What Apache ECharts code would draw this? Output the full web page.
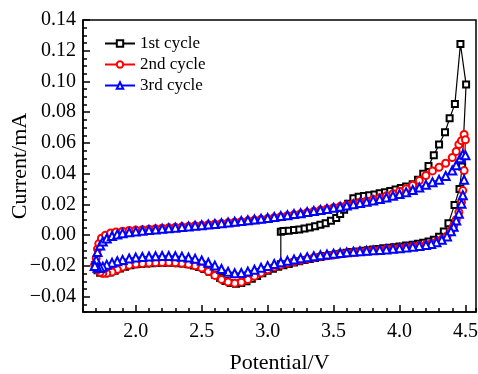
<!DOCTYPE html>
<html>
<head>
<meta charset="utf-8">
<script src="https://cdn.jsdelivr.net/npm/echarts@6/dist/echarts.min.js"></script>
<style>
  html, body { margin: 0; padding: 0; background: #fff; }
  #chart { width: 478px; height: 374px; }
</style>
</head>
<body>
<div id="chart"></div>
<script>
// CV curves, [potential V, current mA]
const seriesNames = ['1st cycle', '2nd cycle', '3rd cycle']

const cycle1 = [
  [3.10, -0.0190], [3.10, 0.0022], [3.12, 0.0027], [3.16, 0.0029], [3.20, 0.0033], [3.24, 0.0037],
  [3.28, 0.0043], [3.32, 0.0050], [3.36, 0.0058], [3.40, 0.0067], [3.44, 0.0078], [3.48, 0.0093],
  [3.52, 0.0112], [3.55, 0.0138], [3.58, 0.0165], [3.61, 0.0205], [3.65, 0.0240], [3.69, 0.0250],
  [3.73, 0.0255], [3.77, 0.0260], [3.81, 0.0265], [3.85, 0.0272], [3.89, 0.0280], [3.93, 0.0288],
  [3.97, 0.0297], [4.01, 0.0307], [4.05, 0.0317], [4.10, 0.0332], [4.14, 0.0360], [4.18, 0.0400],
  [4.22, 0.0450], [4.26, 0.0520], [4.30, 0.0590], [4.345, 0.0670], [4.38, 0.0760], [4.42, 0.0854],
  [4.462, 0.1244], [4.505, 0.0980], [4.475, 0.0446], [4.455, 0.0300], [4.417, 0.0197], [4.371, 0.0077],
  [4.336, 0.0023], [4.30, -0.0010], [4.26, -0.0030], [4.22, -0.0042], [4.18, -0.0050], [4.14, -0.0056],
  [4.10, -0.0062], [4.05, -0.0068], [4.00, -0.0074], [3.96, -0.0078], [3.92, -0.0082], [3.88, -0.0086],
  [3.84, -0.0090], [3.80, -0.0094], [3.76, -0.0098], [3.72, -0.0102], [3.68, -0.0106], [3.64, -0.0110],
  [3.60, -0.0115], [3.56, -0.0120], [3.52, -0.0125], [3.48, -0.0130], [3.44, -0.0136], [3.40, -0.0142],
  [3.36, -0.0148], [3.32, -0.0155], [3.28, -0.0162], [3.24, -0.0170], [3.20, -0.0178], [3.16, -0.0187],
  [3.12, -0.0196], [3.08, -0.0206], [3.04, -0.0218], [3.00, -0.0232], [2.96, -0.0248], [2.92, -0.0266],
  [2.88, -0.0284], [2.84, -0.0300], [2.80, -0.0312], [2.76, -0.0316], [2.72, -0.0311], [2.68, -0.0298],
  [2.64, -0.0279], [2.60, -0.0258], [2.56, -0.0238], [2.52, -0.0221], [2.48, -0.0207], [2.44, -0.0197],
  [2.40, -0.0190], [2.36, -0.0185], [2.32, -0.0182], [2.28, -0.0180], [2.24, -0.0179], [2.20, -0.0179],
  [2.16, -0.0180], [2.12, -0.0182], [2.08, -0.0184], [2.04, -0.0187], [2.00, -0.0190], [1.96, -0.0196],
  [1.92, -0.0205], [1.88, -0.0217], [1.84, -0.0231], [1.80, -0.0243], [1.76, -0.0248], [1.73, -0.0244],
  [1.71, -0.0228], [1.69, -0.0195]
]

const cycle2 = [
  [1.69, -0.0190], [1.70, -0.0150], [1.71, -0.0090], [1.72, -0.0055], [1.74, -0.0020], [1.77, 0.0000],
  [1.81, 0.0014], [1.85, 0.0021], [1.90, 0.0026], [1.95, 0.0030], [2.00, 0.0033], [2.05, 0.0036],
  [2.10, 0.0039], [2.15, 0.0042], [2.20, 0.0045], [2.25, 0.0048], [2.30, 0.0051], [2.35, 0.0054],
  [2.40, 0.0057], [2.45, 0.0061], [2.50, 0.0064], [2.55, 0.0068], [2.60, 0.0072], [2.65, 0.0076],
  [2.70, 0.0080], [2.75, 0.0084], [2.80, 0.0088], [2.85, 0.0093], [2.90, 0.0098], [2.95, 0.0103],
  [3.00, 0.0108], [3.05, 0.0114], [3.10, 0.0120], [3.15, 0.0126], [3.20, 0.0133], [3.25, 0.0140],
  [3.30, 0.0147], [3.35, 0.0155], [3.40, 0.0163], [3.45, 0.0171], [3.50, 0.0179], [3.55, 0.0187],
  [3.60, 0.0196], [3.65, 0.0205], [3.70, 0.0214], [3.75, 0.0223], [3.80, 0.0233], [3.85, 0.0244],
  [3.90, 0.0256], [3.95, 0.0270], [4.00, 0.0285], [4.05, 0.0302], [4.10, 0.0325], [4.15, 0.0355],
  [4.20, 0.0388], [4.25, 0.0418], [4.30, 0.0442], [4.35, 0.0468], [4.40, 0.0505], [4.43, 0.0545],
  [4.45, 0.0590], [4.47, 0.0615], [4.49, 0.0655], [4.50, 0.0620],
  [4.49, 0.0420], [4.48, 0.0290], [4.47, 0.0215], [4.45, 0.0150], [4.43, 0.0100], [4.41, 0.0060],
  [4.39, 0.0030], [4.36, -0.0005], [4.32, -0.0028], [4.28, -0.0045], [4.24, -0.0055], [4.20, -0.0062],
  [4.15, -0.0068], [4.10, -0.0073], [4.05, -0.0078], [4.00, -0.0083], [3.95, -0.0088], [3.90, -0.0092],
  [3.85, -0.0096], [3.80, -0.0100], [3.75, -0.0104], [3.70, -0.0108], [3.65, -0.0112], [3.60, -0.0117],
  [3.55, -0.0122], [3.50, -0.0128], [3.45, -0.0134], [3.40, -0.0140], [3.35, -0.0147], [3.30, -0.0155],
  [3.25, -0.0164], [3.20, -0.0173], [3.15, -0.0183], [3.10, -0.0194], [3.05, -0.0208], [3.00, -0.0225],
  [2.95, -0.0246], [2.90, -0.0268], [2.85, -0.0289], [2.80, -0.0306], [2.75, -0.0313], [2.70, -0.0305],
  [2.65, -0.0288], [2.60, -0.0262], [2.55, -0.0236], [2.50, -0.0214], [2.45, -0.0199], [2.40, -0.0189],
  [2.35, -0.0183], [2.30, -0.0180], [2.25, -0.0178], [2.20, -0.0178], [2.15, -0.0179], [2.10, -0.0181],
  [2.05, -0.0184], [2.00, -0.0188], [1.95, -0.0195], [1.90, -0.0208], [1.86, -0.0224], [1.82, -0.0240],
  [1.78, -0.0248], [1.75, -0.0248], [1.73, -0.0242], [1.71, -0.0226], [1.69, -0.0195]
]

const cycle3 = [
  [1.69, -0.0200], [1.70, -0.0160], [1.71, -0.0110], [1.73, -0.0068], [1.75, -0.0042], [1.78, -0.0022],
  [1.82, -0.0006], [1.86, 0.0005], [1.90, 0.0013], [1.95, 0.0019], [2.00, 0.0024], [2.05, 0.0029],
  [2.10, 0.0033], [2.15, 0.0037], [2.20, 0.0041], [2.25, 0.0045], [2.30, 0.0049], [2.35, 0.0053],
  [2.40, 0.0057], [2.45, 0.0061], [2.50, 0.0065], [2.55, 0.0069], [2.60, 0.0073], [2.65, 0.0078],
  [2.70, 0.0082], [2.75, 0.0087], [2.80, 0.0092], [2.85, 0.0097], [2.90, 0.0102], [2.95, 0.0107],
  [3.00, 0.0112], [3.05, 0.0118], [3.10, 0.0124], [3.15, 0.0130], [3.20, 0.0137], [3.25, 0.0143],
  [3.30, 0.0150], [3.35, 0.0157], [3.40, 0.0164], [3.45, 0.0171], [3.50, 0.0178], [3.55, 0.0185],
  [3.60, 0.0193], [3.65, 0.0201], [3.70, 0.0209], [3.75, 0.0217], [3.80, 0.0226], [3.85, 0.0235],
  [3.90, 0.0245], [3.95, 0.0256], [4.00, 0.0268], [4.05, 0.0280], [4.10, 0.0294], [4.15, 0.0310],
  [4.20, 0.0328], [4.25, 0.0345], [4.30, 0.0360], [4.35, 0.0385], [4.40, 0.0420], [4.43, 0.0455],
  [4.46, 0.0500], [4.48, 0.0525], [4.50, 0.0520],
  [4.49, 0.0360], [4.48, 0.0260], [4.47, 0.0205], [4.45, 0.0140], [4.43, 0.0095], [4.41, 0.0055],
  [4.39, 0.0025], [4.36, -0.0008], [4.32, -0.0030], [4.28, -0.0046], [4.24, -0.0057], [4.20, -0.0064],
  [4.15, -0.0070], [4.10, -0.0075], [4.05, -0.0080], [4.00, -0.0085], [3.95, -0.0089], [3.90, -0.0093],
  [3.85, -0.0096], [3.80, -0.0099], [3.75, -0.0102], [3.70, -0.0105], [3.65, -0.0108], [3.60, -0.0112],
  [3.55, -0.0116], [3.50, -0.0121], [3.45, -0.0126], [3.40, -0.0131], [3.35, -0.0137], [3.30, -0.0143],
  [3.25, -0.0150], [3.20, -0.0158], [3.15, -0.0167], [3.10, -0.0177], [3.05, -0.0188], [3.00, -0.0200],
  [2.95, -0.0212], [2.90, -0.0225], [2.85, -0.0237], [2.80, -0.0246], [2.75, -0.0248], [2.70, -0.0238],
  [2.65, -0.0220], [2.60, -0.0198], [2.55, -0.0180], [2.50, -0.0165], [2.45, -0.0153], [2.40, -0.0145],
  [2.35, -0.0140], [2.30, -0.0137], [2.25, -0.0136], [2.20, -0.0136], [2.15, -0.0137], [2.10, -0.0139],
  [2.05, -0.0142], [2.00, -0.0146], [1.95, -0.0152], [1.90, -0.0161], [1.86, -0.0170], [1.82, -0.0180],
  [1.78, -0.0192], [1.75, -0.0205], [1.73, -0.0213], [1.71, -0.0212], [1.69, -0.0200]
]

// tick labels
const xTicks = [2.0, 2.5, 3.0, 3.5, 4.0, 4.5]
const yTicks = [-0.04, -0.02, 0.00, 0.02, 0.04, 0.06, 0.08, 0.10, 0.12, 0.14]

const font = 'Liberation Serif'
const xMin = 1.6, xMax = 4.58
const yMin = -0.05, yMax = 0.14

const myChart = echarts.init(document.getElementById('chart'))

// same box for both grids; grid 1 only carries the short minor ticks
const box = {left: 83, top: 20, right: 2, bottom: 62, containLabel: false, outerBoundsMode: 'none'}

const minorAxis = (pos, interval, min, max) => ({
  type: 'value', gridIndex: 1, position: pos, min, max, interval,
  axisLine: {show: false, onZero: false},
  axisTick: {show: true, inside: true, length: 4, lineStyle: {color: '#000', width: 1.5}},
  axisLabel: {show: false},
  splitLine: {show: false},
})

myChart.setOption({
  animation: false,
  grid: [
    {...box, show: true, borderColor: '#000', borderWidth: 1.5},
    {...box},
  ],
  legend: {
    orient: 'vertical',
    left: 99, top: 30,
    itemWidth: 30, itemHeight: 8, itemGap: 4,
    textStyle: {fontFamily: font, fontSize: 17, color: '#000'},
    data: seriesNames,
  },
  xAxis: [
    {
      type: 'value', position: 'bottom', min: xMin, max: xMax,
      name: 'Potential/V', nameLocation: 'middle', nameGap: 40, nameMoveOverlap: false,
      nameTextStyle: {fontFamily: font, fontSize: 22, color: '#000'},
      axisLine: {show: true, onZero: false, lineStyle: {color: '#000', width: 1.5}},
      axisTick: {show: true, inside: true, length: 7, customValues: xTicks, lineStyle: {color: '#000', width: 1.5}},
      axisLabel: {
        customValues: xTicks, margin: 10,
        fontFamily: font, fontSize: 20, color: '#000',
        formatter: v => v.toFixed(1),
      },
      splitLine: {show: false},
    },
    minorAxis('bottom', 0.1, xMin, xMax),
  ],
  yAxis: [
    {
      type: 'value', position: 'left', min: yMin, max: yMax,
      name: 'Current/mA', nameLocation: 'middle', nameGap: 52, nameMoveOverlap: false,
      nameTextStyle: {fontFamily: font, fontSize: 22, color: '#000'},
      axisLine: {show: true, onZero: false, lineStyle: {color: '#000', width: 1.5}},
      axisTick: {show: true, inside: true, length: 7, customValues: yTicks, lineStyle: {color: '#000', width: 1.5}},
      axisLabel: {
        customValues: yTicks, margin: 7,
        fontFamily: font, fontSize: 20, color: '#000',
        formatter: v => (v < 0 ? '\u2212' : '') + Math.abs(v).toFixed(2),
      },
      splitLine: {show: false},
    },
    minorAxis('left', 0.005, yMin, yMax),
  ],
  series: [
    {
      name: seriesNames[0], type: 'line', data: cycle1,
      symbol: 'emptyRect', symbolSize: 6,
      itemStyle: {color: '#000', borderWidth: 1},
      lineStyle: {color: '#000', width: 1.2},
    },
    {
      name: seriesNames[1], type: 'line', data: cycle2,
      symbol: 'emptyCircle', symbolSize: 7,
      itemStyle: {color: '#ff0000', borderWidth: 1},
      lineStyle: {color: '#ff0000', width: 1.5},
    },
    {
      name: seriesNames[2], type: 'line', data: cycle3,
      symbol: 'emptyTriangle', symbolSize: 8,
      itemStyle: {color: '#0000ff', borderWidth: 1},
      lineStyle: {color: '#0000ff', width: 1.5},
    },
  ]
})
</script>
</body>
</html>
